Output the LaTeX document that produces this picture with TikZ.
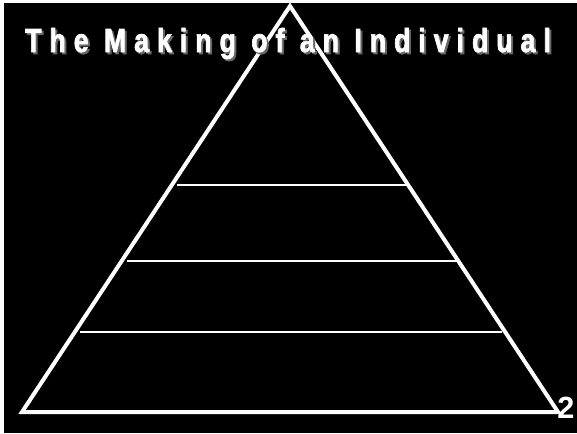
\documentclass[tikz,border=0pt]{standalone}
\usepackage{fontspec}
\setmainfont{Liberation Sans}
\newfontfamily\titlefont{Liberation Sans}[FakeStretch=0.8, LetterSpace=24, FakeBold=2]
\usetikzlibrary{calc, positioning}

\begin{document}
\begin{tikzpicture}[x=0.75pt, y=-0.75pt,
  edge/.style={white, line width=3pt, line join=miter},
  band/.style={white, line width=1.5pt},
  heading/.style={font=\titlefont\bfseries\fontsize{25}{25}\selectfont, inner sep=0pt, anchor=base}]
  % page
  \fill[white] (0,0) rectangle (577,433);
  \fill[black] (4,3) rectangle (577,433);
  \useasboundingbox (0,0) rectangle (577,433);
  % pyramid
  \coordinate (apex) at (290,6);
  \coordinate (bl) at (22,412);
  \coordinate (br) at (558,412);
  \draw[edge] (bl) -- (apex) -- (br) -- cycle;
  \draw[band] (177,184.5) -- (408,184.5);
  \draw[band] (127,260.5) -- (457,260.5);
  \draw[band] (80,332) -- (502,332);
  % title with shadow
  \node[heading, text=black!60] (title-shadow) at (290,54) {The Making of an Individual};
  \node[heading, text=white] (title) at (288,52) {The Making of an Individual};
  \node[font=\bfseries\fontsize{23}{23}\selectfont, text=white, inner sep=0pt, anchor=base west] (page) at (557,418) {2};
\end{tikzpicture}
\end{document}
